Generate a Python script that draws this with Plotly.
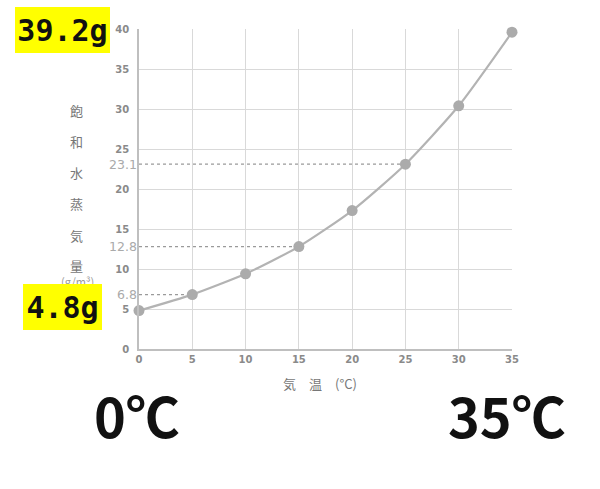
import plotly.graph_objects as go

# saturated water vapour vs temperature
temps = [0, 5, 10, 15, 20, 25, 30, 35]
vapour = [4.8, 6.8, 9.4, 12.8, 17.3, 23.1, 30.4, 39.6]
marked_temps = [5, 15, 25]  # dotted guide lines
marked_vals = [6.8, 12.8, 23.1]
ylabel_chars = ["飽", "和", "水", "蒸", "気", "量"]
box_labels = ["39.2g", "4.8g"]
big_labels = ["0℃", "35℃"]

W, H = 600, 489
L, R, T, B = 139, 88, 29, 140
pw, ph = W - L - R, H - T - B

def px2x(px):
    return (px - L) / pw

def px2y(py):
    return (H - B - py) / ph

grey_tick = "#8a8a8a"
fig = go.Figure()

# dotted guides
for t, v in zip(marked_temps, marked_vals):
    fig.add_shape(type="line", x0=0, x1=t, y0=v, y1=v, xref="x", yref="y",
                  line=dict(color="#9a9a9a", width=1.2, dash="dot"), layer="below")
    fig.add_annotation(x=px2x(139), y=v, xref="paper", yref="y", text=str(v),
                       showarrow=False, xanchor="right", yanchor="middle",
                       font=dict(family="DejaVu Sans", size=12.5, color="#aaaaaa"))

fig.add_trace(go.Scatter(x=temps, y=vapour, mode="lines+markers",
                         line=dict(color="#b3b3b3", width=2.2, shape="spline", smoothing=0.6),
                         marker=dict(color="#ababab", size=11),
                         showlegend=False, cliponaxis=False))

def note(txt, cx, cy, **kw):
    fig.add_annotation(x=px2x(cx), y=px2y(cy), xref="paper", yref="paper", text=txt,
                       showarrow=False, xanchor="center", yanchor="middle", **kw)

# vertical y title
ys = [110, 141, 172, 203, 235, 265]
for ch, py in zip(ylabel_chars, ys):
    note(ch, 76, py, font=dict(family="Noto Sans CJK JP", size=13, color="#777777"))
note("(g/m³)", 77, 281, font=dict(family="Noto Sans CJK JP", size=11, color="#999999"))

# x title
note("気　温　(°C)", 320, 383, font=dict(family="Noto Sans CJK JP", size=13, color="#777777"))

# yellow boxes
for txt, (x0, y0, x1, y1) in zip(box_labels, [(15, 7, 110, 53), (23, 284, 102, 330)]):
    note(txt, (x0 + x1) / 2, (y0 + y1) / 2, width=x1 - x0, height=y1 - y0,
         bgcolor="#ffff00", borderpad=0, borderwidth=0,
         font=dict(family="DejaVu Sans Mono", size=30, color="#111111", weight="bold"))

# big temperature labels
for txt, cx in zip(big_labels, [137, 507]):
    note(txt, cx, 414, font=dict(family="Noto Sans CJK JP", size=54, color="#111111", weight="bold"))

fig.update_xaxes(range=[0, 35], dtick=5, showgrid=True, gridcolor="#d9d9d9", gridwidth=1,
                 showline=True, linecolor="#bfbfbf", linewidth=1.5, zeroline=False,
                 tickfont=dict(family="DejaVu Sans", size=10, color=grey_tick, weight="bold"),
                 ticks="", mirror=False)
fig.update_yaxes(range=[0, 40], dtick=5, showgrid=True, gridcolor="#d9d9d9", gridwidth=1,
                 showline=True, linecolor="#bfbfbf", linewidth=1.5, zeroline=False,
                 tickfont=dict(family="DejaVu Sans", size=10, color=grey_tick, weight="bold"),
                 ticks="", ticklabelstandoff=6)
fig.update_layout(width=W, height=H, margin=dict(l=L, r=R, t=T, b=B, autoexpand=False),
                  paper_bgcolor="white", plot_bgcolor="white")
fig.write_html("out.html", config={"displayModeBar": False},
               post_script="document.body.style.margin='0';")
